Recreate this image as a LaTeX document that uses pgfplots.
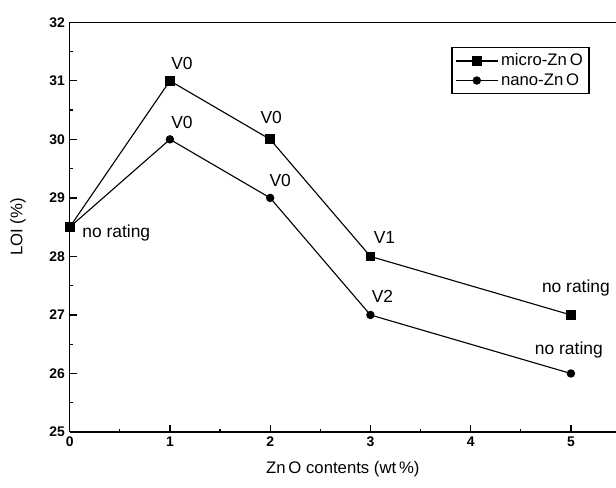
\documentclass[border=0pt]{standalone}
\usepackage{fontspec}
\setmainfont{Liberation Sans}
\usepackage{pgfplots}
\pgfplotsset{compat=1.18}
\usetikzlibrary{calc}

\begin{document}
\begin{tikzpicture}
\begin{axis}[
  width=392pt, height=294pt,
  scale only axis,
  clip=false,
  xmin=0, xmax=5.45,
  ymin=25, ymax=32,
  axis x line=box,
  axis y line=left,
  axis line style={line width=1pt, -},
  xtick={0,1,2,3,4,5},
  ytick={25,26,...,32},
  minor x tick num=1,
  minor y tick num=1,
  xtick pos=bottom, ytick pos=left,
  tick align=inside,
  major tick length=5pt,
  minor tick length=2.5pt,
  tick style={line width=0.9pt, black},
  /pgf/number format/assume math mode=true,
  ticklabel style={font=\normalsize\bfseries},
  xlabel={Zn\,O contents (wt\,\%)},
  ylabel={LOI (\%)},
  label style={font=\fontsize{12}{14}\selectfont},
  xlabel style={at={($(rel axis cs:0.5,0)+(0pt,-27pt)$)}, anchor=center},
  ylabel style={at={($(rel axis cs:0,0.5)+(-37pt,0pt)$)}, anchor=center},
  legend style={at={(0.952,0.94)}, anchor=north east, draw=black, line width=1pt,
    font=\fontsize{12}{13.5}\selectfont, cells={anchor=west}, inner sep=2.5pt, row sep=0pt},
  legend image code/.code={\draw[mark repeat=2, mark phase=2, line width=0.8pt, #1]
    plot coordinates {(0pt,0pt) (15pt,0pt) (30pt,0pt)};},
]
\addplot[black, line width=0.8pt, mark=square*, mark size=3.1pt] coordinates {
  (0,28.5) (1,31) (2,30) (3,28) (5,27)};
\addplot[black, line width=0.8pt, mark=*, mark size=2.6pt] coordinates {
  (0,28.5) (1,30) (2,29) (3,27) (5,26)};
\legend{micro-Zn\,O, nano-Zn\,O}
\begin{scope}[every node/.style={font=\fontsize{12.5}{14}\selectfont, inner sep=0pt}]
\node at (axis cs:1.12,31.30) {V0};
\node at (axis cs:1.12,30.29) {V0};
\node at (axis cs:2.01,30.38) {V0};
\node at (axis cs:2.10,29.30) {V0};
\node at (axis cs:3.14,28.33) {V1};
\node at (axis cs:3.12,27.32) {V2};
\node at (axis cs:5.05,27.46) {no rating};
\node at (axis cs:4.98,26.40) {no rating};
\node at (axis cs:0.465,28.40) {no rating};
\end{scope}
\coordinate (bl) at (rel axis cs:0,0);
\coordinate (tr) at (rel axis cs:1,1);
\end{axis}
\pgfresetboundingbox
\path ([shift={(-50pt,-39.5pt)}]bl) rectangle ([shift={(0pt,16pt)}]tr);
\end{tikzpicture}
\end{document}
